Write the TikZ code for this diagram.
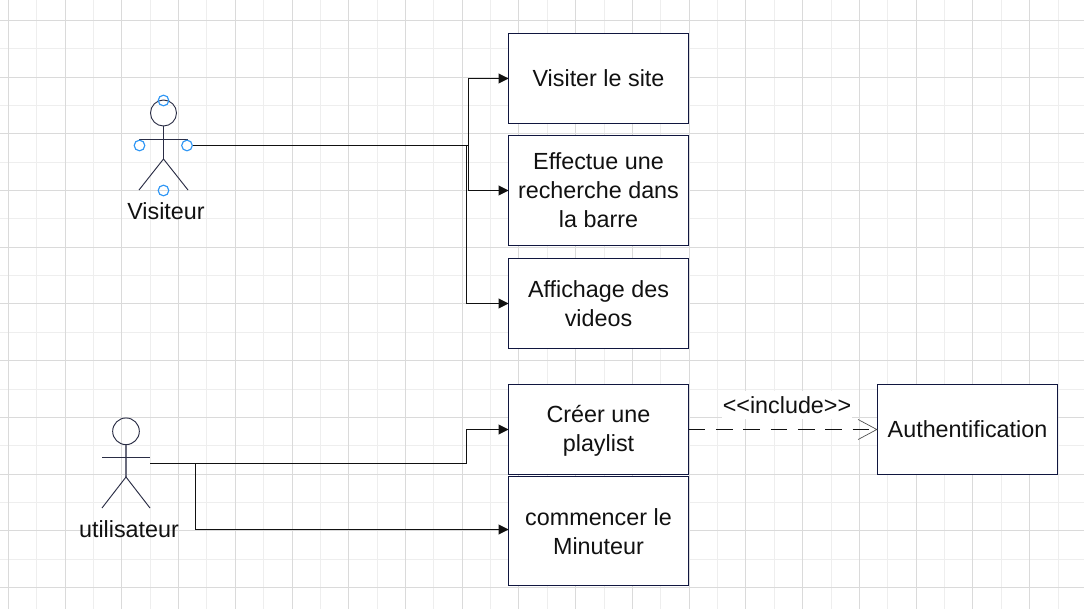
\documentclass[tikz,border=0pt]{standalone}
\usepackage{fontspec}
\setmainfont{Liberation Sans}
\usetikzlibrary{arrows.meta}
\definecolor{navy}{HTML}{10163F}
\definecolor{figcol}{HTML}{2A2D45}
\definecolor{gridmajor}{HTML}{DADADA}
\definecolor{gridminor}{HTML}{EEEEEE}
\definecolor{handle}{HTML}{2E96F5}
\definecolor{ink}{HTML}{111111}
\newcommand{\pushdown}[1]{\rule{0pt}{#1}}
\tikzset{
  x=0.75pt,y=-0.75pt,
  txt/.style={font=\fontsize{17.5}{21.75}\selectfont,text=ink,align=center,inner sep=0pt},
  usecase/.style={draw=navy,line width=0.75pt,fill=white,minimum width=135pt,outer sep=0pt,txt},
  actorline/.style={draw=figcol,line width=0.7pt},
  handlept/.style={circle,draw=handle,line width=0.85pt,fill=none,minimum size=8pt,inner sep=0pt},
  conn/.style={draw=ink,line width=0.75pt},
  arrowconn/.style={conn,-{Triangle[length=7.5pt,width=7.5pt]}},
  depend/.style={draw=ink,line width=0.6pt,dash pattern=on 12.5pt off 8pt,-{Straight Barb[length=14pt,width=15pt,line width=0.5pt,color=black!70]}},
}
\begin{document}
\begin{tikzpicture}
\useasboundingbox (0,0) rectangle (1084,609);
\fill[white] (0,0) rectangle (1084,609);
% grid
\foreach \k in {0,...,38}{
  \pgfmathsetmacro{\gx}{8.3+28.37*\k}
  \pgfmathsetmacro{\ck}{mod(\k,2)}
  \ifdim\ck pt=0pt\else\draw[gridminor,line width=0.75pt] (\gx,0) -- (\gx,609);\fi
}
\foreach \k in {0,...,21}{
  \pgfmathsetmacro{\gy}{20.3+28.37*\k}
  \pgfmathsetmacro{\ck}{mod(\k,2)}
  \ifdim\ck pt=0pt\else\draw[gridminor,line width=0.75pt] (0,\gy) -- (1084,\gy);\fi
}
\foreach \k in {0,...,38}{
  \pgfmathsetmacro{\gx}{8.3+28.37*\k}
  \pgfmathsetmacro{\ck}{mod(\k,2)}
  \ifdim\ck pt=0pt\draw[gridmajor,line width=0.75pt] (\gx,0) -- (\gx,609);\fi
}
\foreach \k in {0,...,21}{
  \pgfmathsetmacro{\gy}{20.3+28.37*\k}
  \pgfmathsetmacro{\ck}{mod(\k,2)}
  \ifdim\ck pt=0pt\draw[gridmajor,line width=0.75pt] (0,\gy) -- (1084,\gy);\fi
}
% use cases
\node[usecase,minimum height=67.5pt] (visiter) at (598.5,78.5) {Visiter le site};
\node[usecase,minimum height=82.5pt] (effectue) at (598.5,190.5) {Effectue une\\recherche dans\\la barre};
\node[usecase,minimum height=67.5pt] (affichage) at (598.5,303.5) {\pushdown{13.3pt}Affichage des\\videos};
\node[usecase,minimum height=67.5pt] (creer) at (598.5,429.5) {\pushdown{15.5pt}Créer une\\playlist};
\node[usecase,minimum height=81.75pt] (minuteur) at (598.5,531) {\pushdown{13.3pt}commencer le\\Minuteur};
\node[usecase,minimum height=67.5pt] (auth) at (967.5,429.5) {Authentification};
% actor Visiteur
\node[circle,actorline,minimum size=19.5pt,inner sep=0pt] (vhead) at (163.5,113) {};
\coordinate (vhip) at (163.5,159);
\coordinate (vla) at (139,139.7);
\coordinate (vra) at (187.5,139.7);
\coordinate (vlf) at (139,190);
\coordinate (vrf) at (188,190);
\draw[actorline] (vhead.south) -- (vhip);
\draw[actorline] (vla) -- (vra);
\draw[actorline] (vlf) -- (vhip) -- (vrf);
\node[txt] (vlabel) at (166,211) {Visiteur};
\node[handlept] (ht) at (163.5,100.5) {};
\node[handlept] (hl) at (139.5,145.5) {};
\node[handlept] (hr) at (187,145.5) {};
\node[handlept] (hb) at (163.5,190.5) {};
% actor utilisateur
\node[circle,actorline,minimum size=20pt,inner sep=0pt] (uhead) at (126,431.3) {};
\coordinate (uhip) at (126,477);
\coordinate (ula) at (102,457.3);
\coordinate (ura) at (150,457.3);
\coordinate (ulf) at (102,508);
\coordinate (urf) at (150,508);
\draw[draw=figcol!70!white,line width=1.4pt] (uhead.south) -- (uhip);
\draw[actorline] (ula) -- (ura);
\draw[actorline] (ulf) -- (uhip) -- (urf);
\node[txt] (ulabel) at (129,529) {utilisateur};
% connectors
\coordinate (vout) at (468.5,145.5);
\coordinate (vout2) at (466.5,145.5);
\coordinate (uout) at (150,463.5);
\coordinate (ubr) at (195.5,463.5);
\coordinate (uel) at (466.5,463.5);
\draw[conn] (hr.east) -- (vout);
\draw[arrowconn] (vout) |- (visiter.west);
\draw[arrowconn] (vout) |- (effectue.west);
\draw[arrowconn] (vout2) |- (affichage.west);
\draw[conn] (uout) -- (uel);
\draw[arrowconn] (uel) |- (creer.west);
\draw[arrowconn] (ubr) |- ([yshift=1.125pt]minuteur.west);
\draw[depend] (creer.east) -- (auth.west);
\node[txt,fill=white,minimum width=97pt,minimum height=21pt] (inc) at (787,405) {<{}<include>{}>};
\end{tikzpicture}
\end{document}
